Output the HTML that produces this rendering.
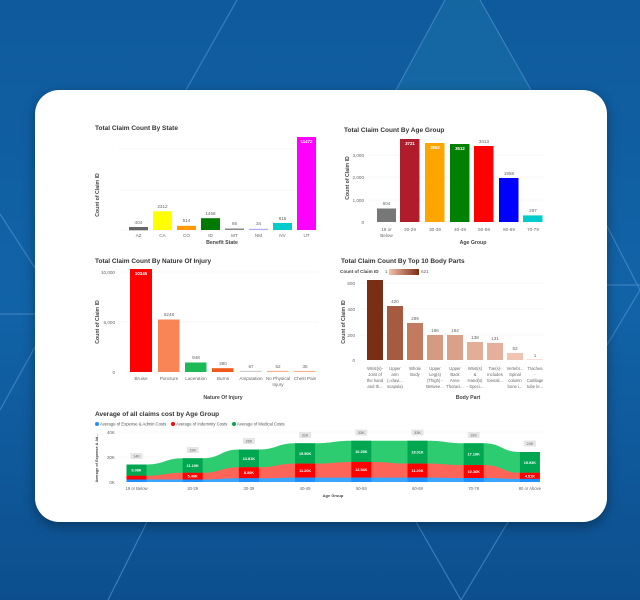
<!DOCTYPE html>
<html><head><meta charset="utf-8"><style>
html,body{margin:0;padding:0;width:640px;height:600px;overflow:hidden;background:#0e5a9e}
svg{display:block}
text{font-family:"Liberation Sans",sans-serif}
.t{font-size:6.5px;font-weight:bold;fill:#333}
.k{font-size:4.6px;fill:#666}
.a{font-size:5.2px;font-weight:bold;fill:#444}
.v{font-size:4.6px;fill:#666}
.w{font-size:4.4px;fill:#fff;font-weight:bold}
</style></head><body>
<svg width="640" height="600" viewBox="0 0 640 600" xmlns="http://www.w3.org/2000/svg">
<defs>
<linearGradient id="bg" x1="0" y1="0" x2="0" y2="1">
<stop offset="0" stop-color="#0f5a9c"/><stop offset="0.5" stop-color="#1163a8"/><stop offset="1" stop-color="#0d4f8e"/>
</linearGradient>
<linearGradient id="lg" x1="0" x2="1"><stop offset="0" stop-color="#f3c0a8"/><stop offset="1" stop-color="#7a2e14"/></linearGradient>
<filter id="sh" x="-10%" y="-10%" width="120%" height="120%"><feGaussianBlur stdDeviation="6"/></filter>
</defs>
<rect width="640" height="600" fill="url(#bg)"/>
<polygon points="445,0 480,0 531,90 396,90" fill="#1a76a8" opacity="0.45"/>
<g stroke="#4d8fca" stroke-width="1.2" opacity="0.7" fill="none">
<line x1="237" y1="0" x2="186" y2="90"/>
<line x1="445" y1="0" x2="396" y2="90"/>
<line x1="480" y1="0" x2="531" y2="90"/>
<line x1="147" y1="522" x2="108" y2="600"/>
<line x1="416" y1="522" x2="461" y2="600"/>
<line x1="508" y1="522" x2="461" y2="600"/>
<line x1="0" y1="214" x2="35" y2="268"/>
<line x1="0" y1="314" x2="35" y2="314"/>
<line x1="0" y1="410" x2="35" y2="347"/>
<line x1="607" y1="226" x2="640" y2="290"/>
<line x1="607" y1="285" x2="640" y2="285"/>
<line x1="607" y1="345" x2="640" y2="290"/>
</g>
<rect x="35" y="94" width="572" height="432" rx="24" fill="#000" opacity="0.35" filter="url(#sh)"/>
<rect x="35" y="90" width="572" height="432" rx="24" fill="#fff"/>

<!-- Chart 1 -->
<text class="t" x="95" y="130">Total Claim Count By State</text>
<g stroke="#efefef" stroke-width="0.6"><line x1="118" y1="149" x2="318" y2="149"/><line x1="118" y1="190" x2="318" y2="190"/><line x1="118" y1="230" x2="318" y2="230"/></g>
<text class="a" transform="translate(99,195) rotate(-90)" text-anchor="middle">Count of Claim ID</text>
<rect x="129" y="227" width="19" height="3.3" fill="#666"/>
<rect x="153" y="211.3" width="19" height="18.7" fill="#ffff00"/>
<rect x="177" y="225.8" width="19" height="4.2" fill="#ff9900"/>
<rect x="201" y="218.2" width="19" height="11.8" fill="#007a00"/>
<rect x="225" y="228.5" width="19" height="1.5" fill="#888"/>
<rect x="249" y="228.8" width="19" height="1.2" fill="#aaaaff"/>
<rect x="273" y="223" width="19" height="7" fill="#00cccc"/>
<rect x="297" y="137" width="19" height="93" fill="#ff00ff"/>
<g class="v" text-anchor="middle">
<text x="138.5" y="224">404</text><text x="162.5" y="208">2312</text><text x="186.5" y="222">514</text><text x="210.5" y="215">1458</text><text x="234.5" y="225">66</text><text x="258.5" y="225">34</text><text x="282.5" y="220">815</text>
<text x="138.5" y="237">AZ</text><text x="162.5" y="237">CA</text><text x="186.5" y="237">CO</text><text x="210.5" y="237">ID</text><text x="234.5" y="237">MT</text><text x="258.5" y="237">NM</text><text x="282.5" y="237">NV</text><text x="306.5" y="237">UT</text>
</g>
<text class="w" x="306.5" y="143" text-anchor="middle">11472</text>
<text class="a" x="222" y="244" text-anchor="middle">Benefit State</text>

<!-- Chart 2 -->
<text class="t" x="344" y="132">Total Claim Count By Age Group</text>
<g stroke="#efefef" stroke-width="0.6"><line x1="368" y1="155" x2="545" y2="155"/><line x1="368" y1="177" x2="545" y2="177"/><line x1="368" y1="200" x2="545" y2="200"/></g>
<g class="k" text-anchor="end"><text x="364" y="157">3,000</text><text x="364" y="179">2,000</text><text x="364" y="202">1,000</text><text x="364" y="224">0</text></g>
<text class="a" transform="translate(349,178) rotate(-90)" text-anchor="middle">Count of Claim ID</text>
<rect x="377" y="208.5" width="19" height="13.5" fill="#777"/>
<rect x="400" y="139" width="19.5" height="83" fill="#b01c2a"/>
<rect x="425" y="143" width="19.5" height="79" fill="#ffa500"/>
<rect x="450" y="144" width="19.5" height="78" fill="#008000"/>
<rect x="474" y="146" width="19.5" height="76" fill="#ff0000"/>
<rect x="499" y="178" width="19.5" height="44" fill="#0000ff"/>
<rect x="523" y="215.4" width="19.5" height="6.6" fill="#00cccc"/>
<g class="w" text-anchor="middle"><text x="410" y="145">3721</text><text x="435" y="149">3552</text><text x="460" y="150">3512</text></g>
<g class="v" text-anchor="middle">
<text x="386.5" y="205">604</text><text x="484" y="143">3413</text><text x="509" y="175">1958</text><text x="533" y="212">297</text>
<text x="386.5" y="231">19 or</text><text x="386.5" y="237">Below</text><text x="410" y="231">20-29</text><text x="435" y="231">30-39</text><text x="460" y="231">40-49</text><text x="484" y="231">50-59</text><text x="509" y="231">60-69</text><text x="533" y="231">70-79</text>
</g>
<text class="a" x="473" y="244" text-anchor="middle">Age Group</text>

<!-- Chart 3 -->
<text class="t" x="95" y="263">Total Claim Count By Nature Of Injury</text>
<g stroke="#efefef" stroke-width="0.6"><line x1="120" y1="272" x2="318" y2="272"/><line x1="120" y1="322" x2="318" y2="322"/></g>
<g class="k" text-anchor="end"><text x="115" y="274">10,000</text><text x="115" y="324">5,000</text><text x="115" y="374">0</text></g>
<text class="a" transform="translate(99,322) rotate(-90)" text-anchor="middle">Count of Claim ID</text>
<rect x="130" y="269" width="22" height="103" fill="#ff0000"/>
<rect x="158" y="319.5" width="21.5" height="52.5" fill="#f98455"/>
<rect x="185" y="362.5" width="21.5" height="9.5" fill="#1db954"/>
<rect x="212" y="368.2" width="21.5" height="3.8" fill="#ef5a1a"/>
<rect x="240" y="370.8" width="21.5" height="1.2" fill="#ccc"/>
<rect x="267" y="370.8" width="21.5" height="1.2" fill="#f9b090"/>
<rect x="294" y="370.9" width="21.5" height="1.1" fill="#f9b090"/>
<text class="w" x="141" y="275" text-anchor="middle">10345</text>
<g class="v" text-anchor="middle">
<text x="169" y="316">5248</text><text x="196" y="359">948</text><text x="223" y="365">380</text><text x="251" y="368">67</text><text x="278" y="368">52</text><text x="305" y="368">35</text>
<text x="141" y="380">Bruise</text><text x="169" y="380">Puncture</text><text x="196" y="380">Laceration</text><text x="223" y="380">Burns</text><text x="251" y="380">Amputation</text><text x="278" y="380">No Physical</text><text x="278" y="386">Injury</text><text x="305" y="380">Chest Pain</text>
</g>
<text class="a" x="223" y="399" text-anchor="middle">Nature Of Injury</text>

<!-- Chart 4 -->
<text class="t" x="341" y="263">Total Claim Count By Top 10 Body Parts</text>
<text x="340" y="273" style="font-size:4.6px;font-weight:bold;fill:#444">Count of Claim ID</text>
<text class="k" x="385" y="273">1</text>
<rect x="389" y="269" width="30" height="6" fill="url(#lg)"/>
<text class="k" x="421" y="273">621</text>
<g stroke="#efefef" stroke-width="0.6"><line x1="360" y1="283" x2="545" y2="283"/><line x1="360" y1="309" x2="545" y2="309"/><line x1="360" y1="335" x2="545" y2="335"/></g>
<g class="k" text-anchor="end"><text x="355" y="285">600</text><text x="355" y="311">400</text><text x="355" y="337">200</text><text x="355" y="362">0</text></g>
<text class="a" transform="translate(345,322) rotate(-90)" text-anchor="middle">Count of Claim ID</text>
<rect x="367" y="280" width="16" height="80" fill="#7a2e14"/>
<rect x="387" y="306" width="16" height="54" fill="#a65a40"/>
<rect x="407" y="323" width="16" height="37" fill="#c27a60"/>
<rect x="427" y="335" width="16" height="25" fill="#d59a80"/>
<rect x="447" y="335" width="16" height="25" fill="#daa088"/>
<rect x="467" y="342" width="16" height="18" fill="#e2ae98"/>
<rect x="487" y="343" width="16" height="17" fill="#e4b09c"/>
<rect x="507" y="353" width="16" height="7" fill="#f0c4b0"/>
<rect x="527" y="359" width="16" height="1" fill="#f8e0d8"/>
<g class="v" text-anchor="middle">
<text x="395" y="303">420</text><text x="415" y="320">289</text><text x="435" y="332">196</text><text x="455" y="332">194</text><text x="475" y="339">138</text><text x="495" y="340">131</text><text x="515" y="350">53</text><text x="535" y="357">1</text>
</g>
<g class="v" text-anchor="middle" style="font-size:4.2px">
<text x="375" y="370">Wrist(s)-</text><text x="375" y="376">Joint of</text><text x="375" y="382">the hand</text><text x="375" y="388">and th...</text>
<text x="395" y="370">Upper</text><text x="395" y="376">arm</text><text x="395" y="382">(=clavi...</text><text x="395" y="388">scapula)</text>
<text x="415" y="370">Whole</text><text x="415" y="376">Body</text>
<text x="435" y="370">Upper</text><text x="435" y="376">Leg(s)</text><text x="435" y="382">(Thigh) -</text><text x="435" y="388">Betwee...</text>
<text x="455" y="370">Upper</text><text x="455" y="376">Back</text><text x="455" y="382">Area-</text><text x="455" y="388">Thoraci...</text>
<text x="475" y="370">Wrist(s)</text><text x="475" y="376">&amp;</text><text x="475" y="382">Hand(s)</text><text x="475" y="388">- Speci...</text>
<text x="495" y="370">Toe(s)-</text><text x="495" y="376">Includes</text><text x="495" y="382">toenail...</text>
<text x="515" y="370">Vertebr...</text><text x="515" y="376">Spinal</text><text x="515" y="382">column</text><text x="515" y="388">bone i...</text>
<text x="535" y="370">Trachea</text><text x="535" y="376">-</text><text x="535" y="382">Cartilage</text><text x="535" y="388">tube le...</text>
</g>
<text class="a" x="468" y="399" text-anchor="middle">Body Part</text>

<!-- Chart 5 -->
<text class="t" x="95" y="416">Average of all claims cost by Age Group</text>
<g style="font-size:4.2px;fill:#555">
<circle cx="97" cy="424" r="2" fill="#1e90ff"/><text x="100" y="425.5">Average of Expense &amp; Admin Costs</text>
<circle cx="173" cy="424" r="2" fill="#ff0000"/><text x="176" y="425.5">Average of Indemnity Costs</text>
<circle cx="234" cy="424" r="2" fill="#00a650"/><text x="237" y="425.5">Average of Medical Costs</text>
</g>
<g stroke="#efefef" stroke-width="0.6"><line x1="118" y1="432" x2="545" y2="432"/><line x1="118" y1="457" x2="545" y2="457"/></g>
<g class="k" text-anchor="end"><text x="115" y="434">40K</text><text x="115" y="459">20K</text><text x="115" y="484">0K</text></g>
<text transform="translate(98,458) rotate(-90)" text-anchor="middle" style="font-size:3.8px;fill:#444;font-weight:bold">Average of Expense &amp; Ad...</text>
<path fill="#2ecc71" d="M126.5,482 V464.5 H146.5 C164.6,464.5 164.6,458.25 182.7,458.25 H202.7 C220.8,458.25 220.8,449.5 238.9,449.5 H258.9 C277,449.5 277,443.25 295.1,443.25 H315.1 C333.2,443.25 333.2,440.75 351.3,440.75 H371.3 C389.4,440.75 389.4,440.75 407.5,440.75 H427.5 C445.6,440.75 445.6,443.25 463.7,443.25 H483.7 C501.8,443.25 501.8,452 519.9,452 H539.9 V482 Z"/>
<path fill="#ff6459" d="M126.5,482 V475.75 H146.5 C164.6,475.75 164.6,472.75 182.7,472.75 H202.7 C220.8,472.75 220.8,467.25 238.9,467.25 H258.9 C277,467.25 277,463.6 295.1,463.6 H315.1 C333.2,463.6 333.2,461.95 351.3,461.95 H371.3 C389.4,461.95 389.4,463.6 407.5,463.6 H427.5 C445.6,463.6 445.6,465.05 463.7,465.05 H483.7 C501.8,465.05 501.8,472.74 519.9,472.74 H539.9 V482 Z"/>
<path fill="#3aa6ff" d="M126.5,482 V479.5 H146.5 C164.6,479.5 164.6,479.5 182.7,479.5 H202.7 C220.8,479.5 220.8,478.25 238.9,478.25 H258.9 C277,478.25 277,477.6 295.1,477.6 H315.1 C333.2,477.6 333.2,477.6 351.3,477.6 H371.3 C389.4,477.6 389.4,477.6 407.5,477.6 H427.5 C445.6,477.6 445.6,478 463.7,478 H483.7 C501.8,478 501.8,478.9 519.9,478.9 H539.9 V482 Z"/>
<g>
<rect x="126.5" y="464.5" width="20" height="11.25" fill="#00a650"/><rect x="126.5" y="475.75" width="20" height="3.75" fill="#ff0000"/><rect x="126.5" y="479.5" width="20" height="2.5" fill="#1e90ff"/>
<rect x="182.7" y="458.25" width="20" height="14.5" fill="#00a650"/><rect x="182.7" y="472.75" width="20" height="6.75" fill="#ff0000"/><rect x="182.7" y="479.5" width="20" height="2.5" fill="#1e90ff"/>
<rect x="238.9" y="449.5" width="20" height="17.75" fill="#00a650"/><rect x="238.9" y="467.25" width="20" height="11" fill="#ff0000"/><rect x="238.9" y="478.25" width="20" height="3.75" fill="#1e90ff"/>
<rect x="295.1" y="443.25" width="20" height="20.35" fill="#00a650"/><rect x="295.1" y="463.6" width="20" height="14" fill="#ff0000"/><rect x="295.1" y="477.6" width="20" height="4.4" fill="#1e90ff"/>
<rect x="351.3" y="440.75" width="20" height="21.2" fill="#00a650"/><rect x="351.3" y="461.95" width="20" height="15.65" fill="#ff0000"/><rect x="351.3" y="477.6" width="20" height="4.4" fill="#1e90ff"/>
<rect x="407.5" y="440.75" width="20" height="22.85" fill="#00a650"/><rect x="407.5" y="463.6" width="20" height="14" fill="#ff0000"/><rect x="407.5" y="477.6" width="20" height="4.4" fill="#1e90ff"/>
<rect x="463.7" y="443.25" width="20" height="21.8" fill="#00a650"/><rect x="463.7" y="465.05" width="20" height="12.95" fill="#ff0000"/><rect x="463.7" y="478" width="20" height="4" fill="#1e90ff"/>
<rect x="519.9" y="452" width="20" height="20.74" fill="#00a650"/><rect x="519.9" y="472.74" width="20" height="6.16" fill="#ff0000"/><rect x="519.9" y="478.9" width="20" height="3.1" fill="#1e90ff"/>
</g>
<g fill="#e6e6e6">
<rect x="130.5" y="453" width="12" height="6"/><rect x="186.7" y="447" width="12" height="6"/><rect x="242.9" y="438" width="12" height="6"/><rect x="299.1" y="432" width="12" height="6"/><rect x="355.3" y="429.5" width="12" height="6"/><rect x="411.5" y="429.5" width="12" height="6"/><rect x="467.7" y="432" width="12" height="6"/><rect x="523.9" y="440.5" width="12" height="6"/>
</g>
<g text-anchor="middle" style="font-size:3.8px;fill:#666">
<text x="136.5" y="457.5">14K</text><text x="192.7" y="451.5">19K</text><text x="248.9" y="442.5">26K</text><text x="305.1" y="436.5">31K</text><text x="361.3" y="434">33K</text><text x="417.5" y="434">33K</text><text x="473.7" y="436.5">31K</text><text x="529.9" y="445">24K</text>
</g>
<g class="w" text-anchor="middle" style="font-size:3.8px">
<text x="136.5" y="471.5">9.08K</text><text x="192.7" y="467">11.10K</text><text x="248.9" y="460">13.81K</text><text x="305.1" y="455">15.50K</text><text x="361.3" y="453">16.25K</text><text x="417.5" y="453.5">18.01K</text><text x="473.7" y="455.5">17.10K</text><text x="529.9" y="464">15.93K</text>
<text x="192.7" y="477.5">5.40K</text><text x="248.9" y="474">8.80K</text><text x="305.1" y="472">11.20K</text><text x="361.3" y="471">12.54K</text><text x="417.5" y="472">11.20K</text><text x="473.7" y="473">10.36K</text><text x="529.9" y="477.3">4.91K</text>
</g>
<g class="k" text-anchor="middle" style="font-size:4.2px">
<text x="136.5" y="490">19 or Below</text><text x="192.7" y="490">20-29</text><text x="248.9" y="490">30-39</text><text x="305.1" y="490">40-49</text><text x="361.3" y="490">50-59</text><text x="417.5" y="490">60-69</text><text x="473.7" y="490">70-79</text><text x="529.9" y="490">80 or Above</text>
</g>
<text x="333" y="497" text-anchor="middle" style="font-size:4px;font-weight:bold;fill:#444">Age Group</text>
</svg>
</body></html>
